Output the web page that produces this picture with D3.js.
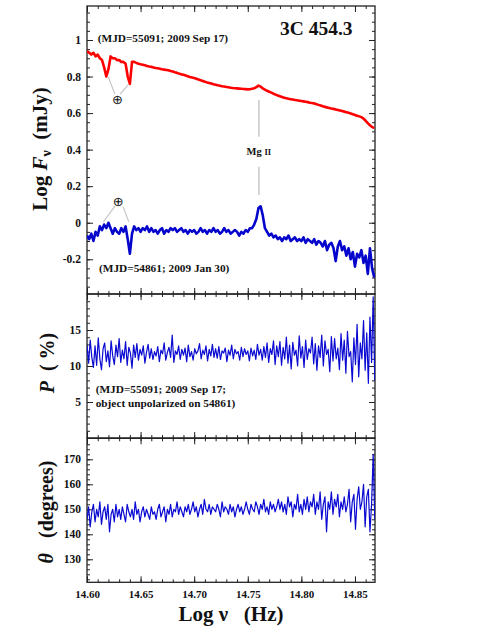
<!DOCTYPE html>
<html><head><meta charset="utf-8">
<script src="https://cdn.jsdelivr.net/npm/d3@7"></script>
<style>
body{margin:0;background:#fff}
svg{display:block}
text{font-family:"Liberation Serif","Times New Roman",serif;font-weight:bold;fill:#111}
</style>
</head><body><svg id="c" width="491" height="635"></svg>
<script>
// ---------- DATA ----------
const nuStart = 14.600;      // Log nu (Hz) of first sample
const fluxStep = 0.002;      // sampling of flux spectra
const polStep = 0.0015;      // sampling of polarization spectra

// Log F_nu (mJy), MJD=55091 (2009 Sep 17)
const fluxSep17 = [0.94,0.93,0.92,0.93,0.91,0.92,0.90,0.89,0.85,0.80,0.84,0.91,0.90,0.90,0.89,0.89,0.88,0.88,0.87,0.80,
0.76,0.88,0.88,0.875,0.87,0.867,0.865,0.862,0.858,0.855,0.853,0.85,0.847,0.845,0.843,0.84,0.838,0.836,0.834,0.83,
0.827,0.823,0.82,0.816,0.812,0.81,0.806,0.802,0.798,0.795,0.792,0.788,0.784,0.78,0.776,0.772,0.768,0.765,0.762,0.758,
0.755,0.752,0.75,0.747,0.745,0.743,0.741,0.739,0.737,0.736,0.735,0.734,0.733,0.732,0.731,0.730,0.731,0.733,0.736,0.742,
0.750,0.745,0.735,0.728,0.722,0.717,0.712,0.706,0.701,0.696,0.692,0.688,0.684,0.681,0.678,0.676,0.674,0.672,0.670,0.668,
0.666,0.664,0.662,0.66,0.657,0.655,0.652,0.649,0.645,0.641,0.637,0.634,0.631,0.628,0.625,0.623,0.62,0.617,0.614,0.611,
0.608,0.605,0.602,0.598,0.594,0.590,0.586,0.582,0.578,0.570,0.558,0.545,0.533,0.524,0.517];

// Log F_nu (mJy), MJD=54861 (2009 Jan 30)
const fluxJan30 = [-0.07,-0.09,-0.06,-0.10,-0.05,-0.07,-0.02,-0.04,-0.01,-0.03,0.00,-0.03,-0.06,-0.03,-0.05,-0.06,-0.03,-0.05,-0.02,-0.09,
-0.17,-0.06,-0.02,-0.04,-0.03,-0.05,-0.03,-0.04,-0.02,-0.05,-0.03,-0.05,-0.04,-0.06,-0.04,-0.03,-0.06,-0.04,-0.05,-0.03,
-0.04,-0.03,-0.05,-0.04,-0.03,-0.05,-0.04,-0.06,-0.04,-0.05,-0.04,-0.06,-0.05,-0.03,-0.05,-0.04,-0.06,-0.04,-0.05,-0.03,
-0.05,-0.04,-0.06,-0.05,-0.03,-0.05,-0.04,-0.06,-0.05,-0.04,-0.05,-0.07,-0.05,-0.06,-0.04,-0.05,-0.03,-0.03,-0.01,0.02,
0.08,0.09,0.04,-0.03,-0.05,-0.07,-0.06,-0.08,-0.07,-0.09,-0.08,-0.10,-0.08,-0.09,-0.07,-0.10,-0.09,-0.08,-0.10,-0.09,
-0.10,-0.08,-0.11,-0.09,-0.10,-0.11,-0.09,-0.12,-0.10,-0.11,-0.13,-0.10,-0.15,-0.12,-0.11,-0.14,-0.21,-0.13,-0.10,-0.15,
-0.13,-0.18,-0.14,-0.20,-0.16,-0.24,-0.17,-0.19,-0.15,-0.22,-0.18,-0.28,-0.14,-0.25,-0.30];

// P (%), MJD=55091
const polP = [12.9,10.4,13.6,11.2,9.8,12.8,10.1,13.9,11.0,9.5,12.4,13.2,10.6,12.1,9.9,13.5,11.4,10.2,12.9,11.3,
13.8,10.5,12.2,11.0,13.4,10.1,12.6,11.8,9.7,12.9,11.2,13.1,10.8,12.3,11.5,12.8,10.4,11.9,13.0,11.1,
12.4,10.9,12.0,11.4,12.7,10.6,12.2,11.7,13.2,10.8,11.9,12.6,11.2,14.3,10.5,12.1,11.6,12.8,10.9,12.3,
11.5,12.5,10.6,12.9,11.3,12.0,10.8,12.4,11.7,12.1,13.1,11.0,12.2,11.6,12.8,10.7,12.3,11.4,13.0,11.2,
12.4,11.1,12.7,10.9,12.1,11.8,12.5,10.6,12.2,11.5,12.9,11.0,12.3,11.7,12.0,10.8,12.6,11.3,12.4,11.6,
12.1,10.7,12.5,11.4,12.2,10.9,13.0,11.5,12.3,10.8,12.7,11.2,13.2,10.5,12.4,11.6,13.5,10.2,12.8,11.3,
13.4,10.1,12.6,11.0,14.0,10.4,12.9,9.6,13.3,11.5,12.2,10.0,14.2,11.1,12.7,9.8,13.6,10.9,12.4,11.8,
14.0,10.3,13.1,9.4,12.8,11.2,14.3,10.0,13.5,11.6,12.3,9.2,14.1,10.7,13.8,11.0,12.5,9.5,14.5,10.8,
13.6,9.0,14.8,11.3,12.0,7.8,13.9,10.2,15.8,8.5,13.2,11.0,16.3,9.4,14.6,7.6,16.8,10.5,19.6,8.0];

// theta (degrees), MJD=55091
const polTheta = [146,151,143,149,152,145,150,147,153,144,149,151,146,152,141,148,150,145,152,147,
150,146,151,148,145,152,149,147,150,146,153,148,150,145,149,151,147,150,148,146,
151,148,149,146,150,152,147,149,151,145,150,148,152,147,150,149,153,148,151,149,
147,151,149,152,148,150,153,149,151,147,150,152,148,154,150,149,152,148,151,150,
149,152,150,147,153,149,151,150,148,152,149,151,147,150,152,149,151,148,150,153,
150,148,152,150,149,153,151,148,152,150,154,149,151,148,153,150,152,149,151,154,
150,153,149,152,148,155,151,153,147,152,150,156,149,152,148,154,150,155,149,153,
151,156,148,153,150,157,146,152,155,141,153,150,157,148,154,151,156,147,153,150,
155,149,152,158,145,153,156,142,154,159,150,153,160,143,155,158,141,152,172,146];

const xTicks = [14.60,14.65,14.70,14.75,14.80,14.85];
const xTickLabels = ["14.60","14.65","14.70","14.75","14.80","14.85"];
const fluxTicks = [1,0.8,0.6,0.4,0.2,0,-0.2];
const fluxTickLabels = ["1","0.8","0.6","0.4","0.2","0","-0.2"];
const pTicks = [15,10,5];
const thetaTicks = [170,160,150,140,130];

// ---------- LAYOUT ----------
const SERIF = '"Liberation Serif","Times New Roman",serif';
const svg = d3.select("#c");
const L = 87, R = 375;
const x = d3.scaleLinear().domain([14.60, 14.8687]).range([L, R]);
const xMinor = d3.range(14.60, 14.869, 0.01);

const panels = [
  {top:6, bottom:294, domain:[-0.39,1.186], major:fluxTicks, labels:fluxTickLabels, minor:d3.range(-0.35,1.19,0.05)},
  {top:294, bottom:438, domain:[0,20], major:pTicks, labels:pTicks.map(String), minor:d3.range(1,20,1)},
  {top:438.3, bottom:582.3, domain:[120.8,178.4], major:thetaTicks, labels:thetaTicks.map(String), minor:d3.range(122,178,2)}
];
panels.forEach(p => p.y = d3.scaleLinear().domain(p.domain).range([p.bottom, p.top]));

const defs = svg.append("defs");
panels.forEach((p,i) => {
  defs.append("clipPath").attr("id","clip"+i).append("rect")
    .attr("x",L).attr("y",p.top).attr("width",R-L).attr("height",p.bottom-p.top);
});

function styleAxis(g){
  g.select(".domain").remove();
  g.attr("font-family",SERIF).attr("font-size",null);
  g.selectAll("line").attr("stroke","#222").attr("stroke-width",1);
  g.selectAll("text").style("font-family",SERIF).style("font-weight","bold").attr("fill","#111");
}

panels.forEach((p,i) => {
  const g = svg.append("g");
  g.append("g").attr("transform",`translate(${L},0)`)
    .call(d3.axisLeft(p.y).tickValues(p.minor).tickSize(-3).tickFormat("")).call(styleAxis);
  g.append("g").attr("transform",`translate(${R},0)`)
    .call(d3.axisRight(p.y).tickValues(p.minor).tickSize(-3).tickFormat("")).call(styleAxis);
  const yl = g.append("g").attr("transform",`translate(${L},0)`)
    .call(d3.axisLeft(p.y).tickValues(p.major).tickSize(-6).tickPadding(6)
      .tickFormat((d,k)=>p.labels[k])).call(styleAxis);
  yl.selectAll("text").attr("font-size","11.5px");
  g.append("g").attr("transform",`translate(${R},0)`)
    .call(d3.axisRight(p.y).tickValues(p.major).tickSize(-6).tickFormat("")).call(styleAxis);
  g.append("g").attr("transform",`translate(0,${p.top})`)
    .call(d3.axisTop(x).tickValues(xMinor).tickSize(-3).tickFormat("")).call(styleAxis);
  g.append("g").attr("transform",`translate(0,${p.top})`)
    .call(d3.axisTop(x).tickValues(xTicks).tickSize(-6).tickFormat("")).call(styleAxis);
  g.append("g").attr("transform",`translate(0,${p.bottom})`)
    .call(d3.axisBottom(x).tickValues(xMinor).tickSize(-3).tickFormat("")).call(styleAxis);
  const xb = g.append("g").attr("transform",`translate(0,${p.bottom})`)
    .call(d3.axisBottom(x).tickValues(xTicks).tickSize(-6).tickPadding(8)
      .tickFormat((d,k)=> i===2 ? xTickLabels[k] : "")).call(styleAxis);
  xb.selectAll("text").attr("font-size","11px");
  g.append("rect").attr("x",L).attr("y",p.top).attr("width",R-L).attr("height",p.bottom-p.top)
    .attr("fill","none").attr("stroke","#222").attr("stroke-width",1.3);
});

// ---------- SERIES ----------
function drawSeries(vals, step, p, idx, color, w){
  const line = d3.line().x((d,k)=>x(nuStart + k*step)).y(d=>p.y(d));
  svg.append("path").datum(vals).attr("clip-path",`url(#clip${idx})`)
    .attr("d",line).attr("fill","none").attr("stroke",color)
    .attr("stroke-width",w).attr("stroke-linejoin","round");
}
drawSeries(fluxSep17, fluxStep, panels[0], 0, "#ff0000", 2.6);
drawSeries(fluxJan30, fluxStep, panels[0], 0, "#0505cc", 2.6);
drawSeries(polP, polStep, panels[1], 1, "#0a0ad2", 1.2);
drawSeries(polTheta, polStep, panels[2], 2, "#0a0ad2", 1.2);

// ---------- ANNOTATIONS ----------
const y1 = panels[0].y, y2 = panels[1].y;
const gray = "#c8c8c8";
function seg(a,b,c,d){
  svg.append("line").attr("x1",x(a)).attr("y1",y1(b)).attr("x2",x(c)).attr("y2",y1(d))
    .attr("stroke",gray).attr("stroke-width",1.2);
}
seg(14.6261,0.703,14.6197,0.80); seg(14.6308,0.703,14.6385,0.755);
seg(14.6261,0.091,14.6152,0.005); seg(14.6336,0.088,14.6390,0.005);
svg.append("text").attr("x",x(14.6285)).attr("y",y1(0.675)).attr("text-anchor","middle")
  .attr("dominant-baseline","central").style("font-family","DejaVu Sans").style("font-weight","normal")
  .attr("font-size","13px").text("⊕");
svg.append("text").attr("x",x(14.6292)).attr("y",y1(0.115)).attr("text-anchor","middle")
  .attr("dominant-baseline","central").style("font-family","DejaVu Sans").style("font-weight","normal")
  .attr("font-size","13px").text("⊕");
svg.append("line").attr("x1",x(14.7604)).attr("x2",x(14.7604)).attr("y1",y1(0.672)).attr("y2",y1(0.471))
  .attr("stroke",gray).attr("stroke-width",1.5);
svg.append("line").attr("x1",x(14.7604)).attr("x2",x(14.7604)).attr("y1",y1(0.307)).attr("y2",y1(0.152))
  .attr("stroke",gray).attr("stroke-width",1.5);
const mg = svg.append("text").attr("x",x(14.7489)).attr("y",y1(0.371)).attr("font-size","10.5px");
mg.append("tspan").text("Mg ");
mg.append("tspan").attr("font-size","8.5px").text("II");

svg.append("text").attr("x",280).attr("y",35).attr("font-size","19.5px").text("3C 454.3");
svg.append("text").attr("x",x(14.6100)).attr("y",y1(0.991)).attr("font-size","11.3px")
  .text("(MJD=55091; 2009 Sep 17)");
svg.append("text").attr("x",x(14.6112)).attr("y",y1(-0.27)).attr("font-size","11.3px")
  .text("(MJD=54861; 2009 Jan 30)");
svg.append("text").attr("x",x(14.6081)).attr("y",y2(6.25)).attr("font-size","11.3px")
  .text("(MJD=55091; 2009 Sep 17;");
svg.append("text").attr("x",x(14.6081)).attr("y",y2(4.3)).attr("font-size","11.3px")
  .text("object unpolarized on 54861)");

// ---------- AXIS TITLES ----------
svg.append("text").attr("x",231).attr("y",621).attr("text-anchor","middle").attr("font-size","21px")
  .text("Log ν\u00a0\u00a0 (Hz)");

const t1 = svg.append("text").attr("transform","translate(47,149) rotate(-90)")
  .attr("text-anchor","middle").attr("font-size","21px");
t1.append("tspan").text("Log ");
t1.append("tspan").style("font-style","italic").text("F");
t1.append("tspan").attr("font-size","14px").attr("dy","4").text("ν");
t1.append("tspan").attr("dy","-4").text("\u00a0 (mJy)");

const t2 = svg.append("text").attr("transform","translate(54,363) rotate(-90)")
  .attr("text-anchor","middle").attr("font-size","20px");
t2.append("tspan").style("font-style","italic").text("P");
t2.append("tspan").text("\u00a0 ( %)");

const t3 = svg.append("text").attr("transform","translate(53,512) rotate(-90)")
  .attr("text-anchor","middle").attr("font-size","20px");
t3.append("tspan").style("font-style","italic").text("θ");
t3.append("tspan").text("\u00a0\u00a0 (degrees)");
</script>
</body></html>
